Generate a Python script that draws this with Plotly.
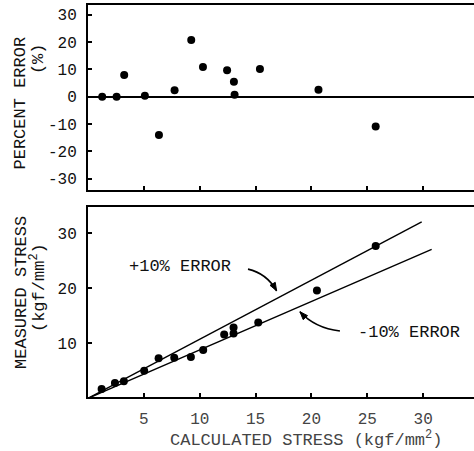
import plotly.graph_objects as go

# ---- data ----
err_x = [1.27, 2.56, 3.24, 5.09, 6.35, 7.75, 9.24, 10.29, 12.45, 13.06, 13.12, 15.39, 20.63, 25.75]
err_y = [0.0, 0.0, 7.95, 0.37, -14.0, 2.34, 20.76, 10.88, 9.67, 5.49, 0.73, 10.15, 2.56, -10.95]

calc_x = [1.22, 2.41, 3.21, 5.03, 6.32, 7.72, 9.21, 10.31, 12.19, 13.03, 13.03, 15.24, 20.49, 25.75]
meas_y = [1.7, 2.8, 3.1, 5.0, 7.3, 7.4, 7.5, 8.8, 11.6, 12.9, 11.8, 13.8, 19.6, 27.7]

plus10_x = [0, 29.87]
plus10_y = [0, 32.1]
minus10_x = [0, 30.76]
minus10_y = [0, 27.1]

err_ticks = [30, 20, 10, 0, -10, -20, -30]
err_ticklabels = ["30", "20", "10", "0", "-10", "-20", "-30"]
stress_yticks = [10, 20, 30]
stress_xticks = [5, 10, 15, 20, 25, 30]

FONT = "Liberation Mono, Courier New, monospace"
TICKF = dict(family=FONT, size=16, color="#111")

fig = go.Figure()
fig.add_trace(go.Scatter(x=err_x, y=err_y, mode="markers", xaxis="x", yaxis="y",
                         marker=dict(color="black", size=8), showlegend=False))
fig.add_trace(go.Scatter(x=plus10_x, y=plus10_y, mode="lines", xaxis="x2", yaxis="y2",
                         line=dict(color="black", width=1.4), showlegend=False))
fig.add_trace(go.Scatter(x=minus10_x, y=minus10_y, mode="lines", xaxis="x2", yaxis="y2",
                         line=dict(color="black", width=1.4), showlegend=False))
fig.add_trace(go.Scatter(x=calc_x, y=meas_y, mode="markers", xaxis="x2", yaxis="y2",
                         marker=dict(color="black", size=8), showlegend=False))

axis_common = dict(showgrid=False, showline=True, linecolor="black", linewidth=2,
                   ticks="inside", tickcolor="black", ticklen=4, tickwidth=1.5)

fig.update_layout(
    width=474, height=451,
    margin=dict(l=88, r=0, t=5, b=54),
    paper_bgcolor="white", plot_bgcolor="white",
    xaxis=dict(domain=[0, 1], anchor="y", range=[0, 34.55], tickvals=stress_xticks,
               showticklabels=False, mirror=True, **axis_common),
    yaxis=dict(domain=[0.528, 1], anchor="x", range=[-34.2, 33.6], tickvals=err_ticks,
               ticktext=err_ticklabels, tickfont=TICKF, zeroline=True, zerolinecolor="black",
               zerolinewidth=2, ticklabelstandoff=6, **axis_common),
    xaxis2=dict(domain=[0, 1], anchor="y2", range=[0, 34.55], tickvals=stress_xticks,
                tickfont=dict(family=FONT, size=16, color="#444"), mirror=True,
                ticklabelstandoff=6, **axis_common),
    yaxis2=dict(domain=[0, 0.4847], anchor="x2", range=[0.24, 34.8], tickvals=stress_yticks,
                tickfont=TICKF, zeroline=False, ticklabelstandoff=6, **axis_common),
)

TF = dict(family=FONT, size=17, color="#111")
ann = [
    dict(text="PERCENT ERROR", x=-0.1736, y=0.7513, textangle=-90),
    dict(text="(%)", x=-0.1295, y=0.862, textangle=-90),
    dict(text="MEASURED STRESS", x=-0.171, y=0.268, textangle=-90),
    dict(text="(kgf/mm<sup>2</sup>)", x=-0.1295, y=0.278, textangle=-90),
]
for a in ann:
    fig.add_annotation(xref="paper", yref="paper", showarrow=False, font=TF,
                       xanchor="center", yanchor="middle", **a)
fig.add_annotation(xref="paper", yref="paper", showarrow=False,
                   font=dict(family=FONT, size=17, color="#444"),
                   xanchor="center", yanchor="middle",
                   text="CALCULATED STRESS (kgf/mm<sup>2</sup>)", x=0.5648, y=-0.108)

fig.add_annotation(xref="x2", yref="y2", x=8.23, y=23.9, text="+10% ERROR",
                   showarrow=False, font=TF)
fig.add_annotation(xref="x2", yref="y2", x=28.7, y=12.05, text="-10% ERROR",
                   showarrow=False, font=TF)

# curved leader lines
fig.add_shape(type="path", xref="x2", yref="y2",
              path="M 14.32,23.5 Q 15.99,22.73 16.88,19.56",
              line=dict(color="black", width=1.6))
fig.add_shape(type="path", xref="x2", yref="y2",
              path="M 22.55,12.24 Q 20.31,12.78 18.97,15.75",
              line=dict(color="black", width=1.6))
# arrowheads
fig.add_shape(type="path", xref="x2", yref="y2",
              path="M 16.88,19.56 L 16.29,20.55 L 16.76,21.09 Z",
              line=dict(color="black", width=1), fillcolor="black")
fig.add_shape(type="path", xref="x2", yref="y2",
              path="M 18.97,15.75 L 19.65,15.04 L 19.26,14.31 Z",
              line=dict(color="black", width=1), fillcolor="black")

fig.write_html("out.html", config={"displayModeBar": False},
               post_script="document.body.style.margin='0';")
